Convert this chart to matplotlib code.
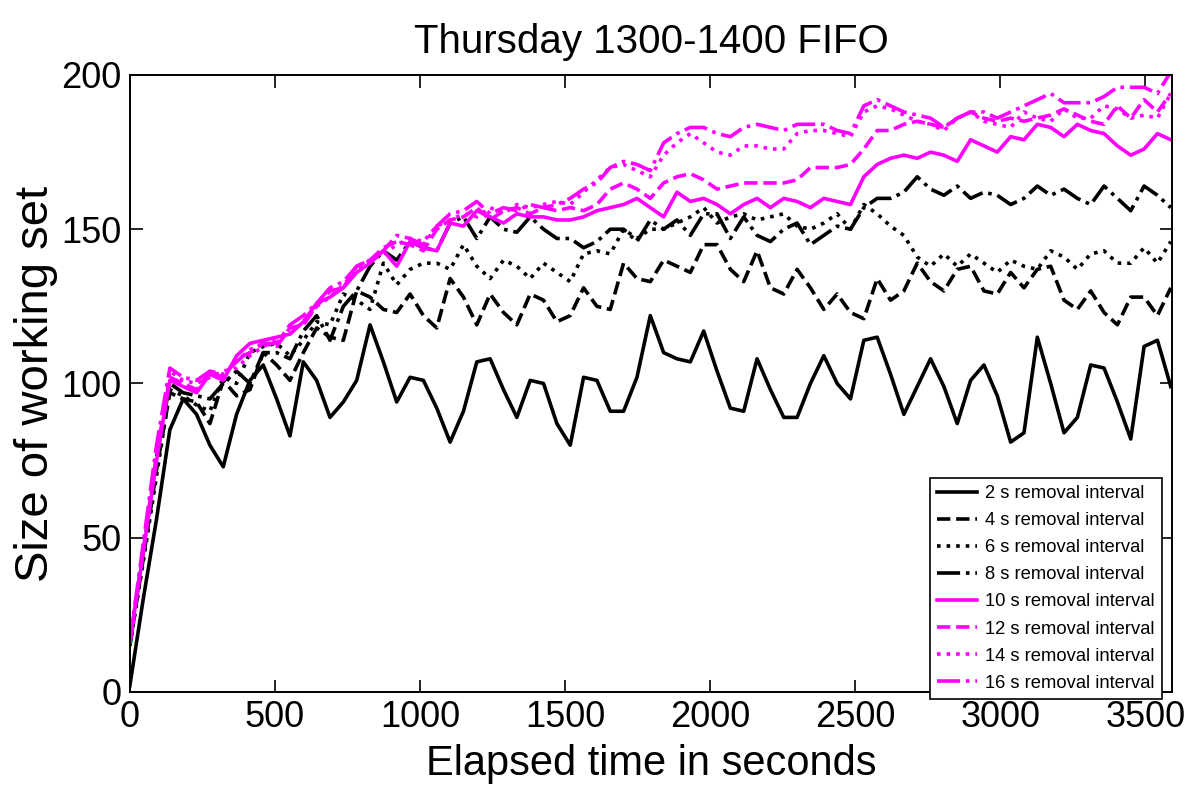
import matplotlib
matplotlib.use('Agg')
import matplotlib.pyplot as plt

plt.rcParams['font.family'] = ['Liberation Sans', 'DejaVu Sans']

# sample times (s)
times = [0, 46, 92, 138, 184, 230, 276, 322, 368, 414, 460, 506, 552, 598, 644,
         690, 736, 782, 828, 874, 920, 966, 1012, 1058, 1104, 1150, 1196, 1242,
         1288, 1334, 1380, 1426, 1472, 1518, 1564, 1610, 1656, 1702, 1748, 1794,
         1840, 1886, 1932, 1978, 2024, 2070, 2116, 2162, 2208, 2254, 2300, 2346,
         2392, 2438, 2484, 2530, 2576, 2622, 2668, 2714, 2760, 2806, 2852, 2898,
         2944, 2990, 3036, 3082, 3128, 3174, 3220, 3266, 3312, 3358, 3404, 3450,
         3496, 3542, 3588]

# working set size for each removal interval
ws_2s = [2, 30, 56, 85, 95, 90, 80, 73, 90, 101, 106, 95, 83, 107, 101, 89, 94,
         101, 119, 107, 94, 102, 101, 92, 81, 91, 107, 108, 98, 89, 101, 100, 87,
         80, 102, 101, 91, 91, 102, 122, 110, 108, 107, 117, 104, 92, 91, 108, 98,
         89, 89, 100, 109, 100, 95, 114, 115, 103, 90, 99, 108, 99, 87, 101, 106,
         96, 81, 84, 115, 100, 84, 89, 106, 105, 94, 82, 112, 114, 99]
ws_4s = [15, 43, 72, 97, 95, 94, 87, 101, 96, 98, 110, 106, 101, 110, 118, 115,
         114, 130, 128, 124, 123, 129, 122, 118, 134, 128, 119, 129, 123, 119, 129,
         127, 120, 122, 131, 125, 124, 139, 134, 133, 140, 138, 136, 145, 145, 137,
         133, 143, 131, 129, 137, 131, 124, 129, 123, 121, 134, 127, 130, 139, 133,
         130, 137, 138, 130, 129, 136, 131, 137, 138, 127, 124, 130, 123, 119, 128,
         128, 122, 131]
ws_6s = [15, 42, 70, 98, 96, 93, 91, 102, 100, 110, 112, 113, 109, 114, 120, 119,
         129, 127, 124, 139, 132, 137, 139, 139, 137, 145, 138, 134, 140, 138, 134,
         139, 136, 133, 142, 143, 142, 150, 147, 150, 150, 152, 154, 157, 152, 154,
         155, 153, 154, 155, 151, 150, 152, 155, 150, 158, 155, 151, 148, 141, 138,
         142, 138, 142, 139, 136, 140, 138, 137, 143, 141, 137, 142, 143, 139, 139,
         144, 139, 146]
ws_8s = [15, 45, 76, 100, 97, 96, 95, 100, 104, 100, 110, 110, 108, 117, 122, 114,
         125, 130, 138, 143, 140, 146, 144, 143, 152, 154, 147, 154, 150, 149, 154,
         150, 147, 147, 144, 146, 150, 150, 146, 153, 150, 153, 148, 155, 155, 147,
         154, 148, 146, 150, 152, 145, 148, 151, 150, 157, 160, 160, 162, 167, 163,
         161, 164, 160, 162, 161, 158, 160, 164, 161, 163, 160, 158, 164, 160, 156,
         164, 161, 157]
ws_10s = [16, 45, 75, 101, 99, 97, 103, 101, 109, 113, 114, 115, 116, 120, 126,
          128, 131, 136, 139, 143, 138, 146, 144, 143, 152, 151, 156, 154, 152, 155,
          154, 154, 153, 153, 154, 156, 157, 158, 160, 157, 154, 162, 159, 160, 158,
          155, 158, 160, 157, 160, 159, 157, 160, 159, 158, 167, 171, 173, 174, 173,
          175, 174, 172, 179, 177, 175, 180, 179, 184, 183, 180, 184, 182, 181, 177,
          174, 176, 181, 179]
ws_12s = [16, 46, 77, 102, 100, 98, 104, 102, 108, 110, 113, 112, 118, 119, 125,
          130, 131, 138, 140, 144, 146, 145, 143, 150, 153, 154, 157, 153, 156, 157,
          155, 157, 156, 157, 156, 158, 163, 165, 163, 160, 165, 167, 168, 166, 163,
          164, 165, 165, 165, 165, 166, 170, 170, 170, 171, 176, 182, 182, 184, 185,
          184, 183, 186, 188, 186, 185, 186, 185, 186, 187, 189, 187, 185, 184, 190,
          186, 192, 188, 194]
ws_14s = [16, 46, 78, 104, 101, 100, 102, 104, 105, 109, 112, 114, 116, 120, 125,
          128, 132, 137, 140, 142, 145, 147, 146, 151, 153, 155, 154, 157, 155, 158,
          157, 158, 159, 158, 162, 166, 170, 171, 169, 167, 174, 178, 181, 178, 175,
          174, 177, 177, 176, 176, 181, 182, 182, 181, 180, 188, 190, 189, 187, 185,
          184, 182, 186, 188, 185, 184, 183, 188, 186, 185, 189, 186, 186, 190, 189,
          186, 187, 186, 194]
ws_16s = [16, 48, 80, 105, 102, 101, 104, 103, 107, 111, 113, 113, 119, 122, 126,
          131, 133, 138, 140, 143, 148, 147, 145, 151, 155, 156, 159, 155, 157, 156,
          158, 157, 158, 160, 163, 165, 170, 172, 171, 169, 178, 181, 183, 183, 181,
          180, 183, 184, 183, 182, 184, 184, 184, 182, 181, 190, 192, 190, 188, 187,
          186, 183, 186, 188, 188, 186, 188, 190, 192, 194, 191, 191, 191, 193, 196,
          196, 196, 194, 201]

labels = ['2 s removal interval', '4 s removal interval', '6 s removal interval',
          '8 s removal interval', '10 s removal interval', '12 s removal interval',
          '14 s removal interval', '16 s removal interval']
xticks = [0, 500, 1000, 1500, 2000, 2500, 3000, 3500]
yticks = [0, 50, 100, 150, 200]

series = [ws_2s, ws_4s, ws_6s, ws_8s, ws_10s, ws_12s, ws_14s, ws_16s]
colors = ['k'] * 4 + ['#ff00ff'] * 4
styles = ['-', '--', ':', '-.'] * 2

fig = plt.figure(figsize=(12.02, 7.85), dpi=100)
ax = fig.add_axes([0.108, 0.1185, 0.867, 0.786])

for ys, c, ls, lab in zip(series, colors, styles, labels):
	ax.plot(times, ys, color=c, linestyle=ls, linewidth=2.6, label=lab)

ax.set_xlim(0, 3592)
ax.set_ylim(0, 200)
ax.set_xticks(xticks)
ax.set_yticks(yticks)
ax.tick_params(direction='in', length=9, width=1.2, top=True, right=True,
               labelsize=26, pad=6)
for sp in ax.spines.values():
	sp.set_linewidth(1.4)

ax.set_title('Thursday 1300-1400 FIFO', fontsize=29, pad=16)
ax.set_xlabel('Elapsed time in seconds', fontsize=30, labelpad=6)
ax.set_ylabel('Size of working set', fontsize=34, labelpad=2)

leg = ax.legend(loc='lower right', bbox_to_anchor=(1161.7 / 1202, 1 - 699 / 785),
                bbox_transform=fig.transFigure, fontsize=13.2, borderaxespad=0,
                labelspacing=0.55, handlelength=2.2, handletextpad=0.4,
                borderpad=0.4, fancybox=False, framealpha=1)
leg.get_frame().set_edgecolor('k')
leg.get_frame().set_linewidth(1.2)

fig.savefig('out.png', dpi=100)
